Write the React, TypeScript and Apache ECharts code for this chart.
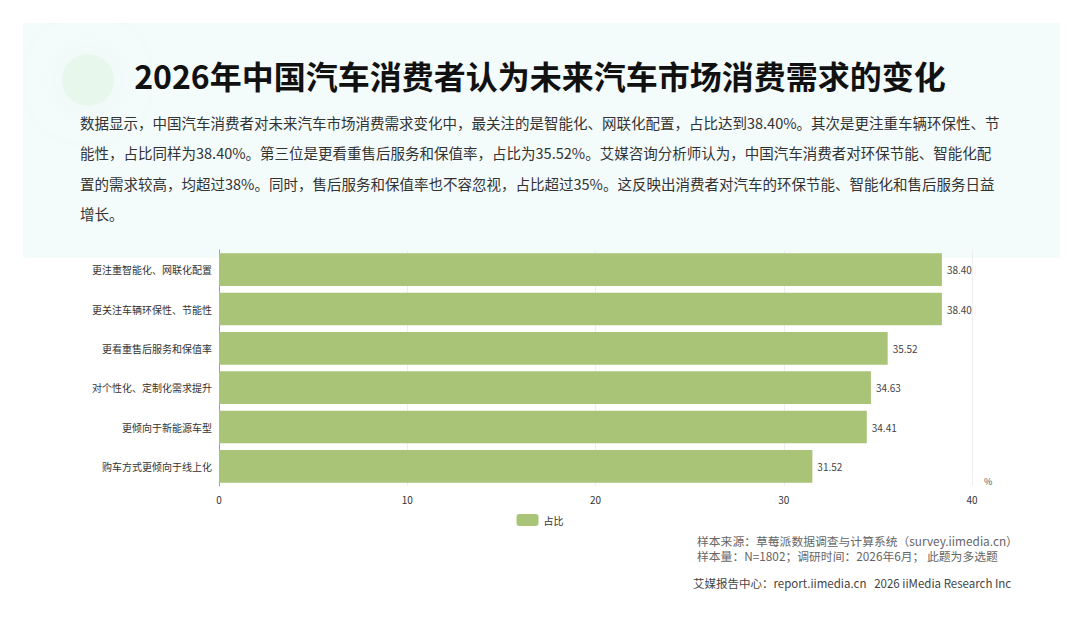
import React, { useEffect, useRef } from "react";
import * as echarts from "echarts";

const categories = [
  "更注重智能化、网联化配置",
  "更关注车辆环保性、节能性",
  "更看重售后服务和保值率",
  "对个性化、定制化需求提升",
  "更倾向于新能源车型",
  "购车方式更倾向于线上化",
];
const shareValues = [38.4, 38.4, 35.52, 34.63, 34.41, 31.52];
const seriesName = "占比";
const axisUnit = "%";

const titleText = "2026年中国汽车消费者认为未来汽车市场消费需求的变化";
const paragraphLines = [
  "数据显示，中国汽车消费者对未来汽车市场消费需求变化中，最关注的是智能化、网联化配置，占比达到38.40%。其次是更注重车辆环保性、节",
  "能性，占比同样为38.40%。第三位是更看重售后服务和保值率，占比为35.52%。艾媒咨询分析师认为，中国汽车消费者对环保节能、智能化配",
  "置的需求较高，均超过38%。同时，售后服务和保值率也不容忽视，占比超过35%。这反映出消费者对汽车的环保节能、智能化和售后服务日益",
  "增长。",
];
const sourceLines = [
  "样本来源：草莓派数据调查与计算系统（survey.iimedia.cn）",
  "样本量：N=1802；调研时间：2026年6月； 此题为多选题",
];
const footerText = "艾媒报告中心：report.iimedia.cn   2026 iiMedia Research Inc";

const FONT = '"Noto Sans CJK SC", "Noto Sans", sans-serif';

export default function App() {
  const ref = useRef<HTMLDivElement>(null);
  useEffect(() => {
    if (!ref.current) return;
    const chart = echarts.init(ref.current, undefined, { renderer: "svg" });
    const graphics: any[] = [
      {
        type: "rect",
        z: -10,
        silent: true,
        shape: { x: 23, y: 23, width: 1037, height: 235 },
        style: { fill: "#f3fbfb" },
      },
      {
        type: "circle",
        z: -9,
        silent: true,
        shape: { cx: 88, cy: 80, r: 26 },
        style: { fill: "rgba(215,240,215,0.35)", shadowBlur: 40, shadowColor: "rgba(215,240,215,0.6)" },
      },
      {
        type: "text",
        x: 540,
        y: 75,
        style: {
          text: titleText,
          fontFamily: FONT,
          fontSize: 32,
          fontWeight: "bold",
          fill: "#111",
          align: "center",
          verticalAlign: "middle",
        },
      },
      ...paragraphLines.map((t, i) => ({
        type: "text",
        x: 80,
        y: 122 + i * 30.5,
        style: {
          text: t,
          fontFamily: FONT,
          fontSize: 14.5,
          fill: "#333",
          align: "left",
          verticalAlign: "middle",
        },
      })),
      ...sourceLines.map((t, i) => ({
        type: "text",
        x: 697,
        y: 540 + i * 15,
        style: {
          text: t,
          fontFamily: FONT,
          fontSize: 11.8,
          lineHeight: 14,
          fill: "#666",
          align: "left",
          verticalAlign: "middle",
        },
      })),
      {
        type: "text",
        x: 693,
        y: 583,
        style: {
          text: footerText,
          fontFamily: FONT,
          fontSize: 11.5,
          fill: "#444",
          align: "left",
          verticalAlign: "middle",
        },
      },
    ];

    chart.setOption({
      animation: false,
      backgroundColor: "#ffffff",
      textStyle: { fontFamily: FONT },
      grid: { left: 219, right: 108, top: 250, bottom: 137, containLabel: false },
      legend: {
        data: [seriesName],
        left: "center",
        top: 509,
        icon: "roundRect",
        itemWidth: 22,
        itemHeight: 12,
        itemGap: 8,
        textStyle: { fontSize: 10, color: "#333", fontFamily: FONT },
      },
      xAxis: {
        type: "value",
        min: 0,
        max: 40,
        interval: 10,
        name: axisUnit,
        nameLocation: "end",
        nameGap: 12,
        nameTextStyle: { fontSize: 9, color: "#555", verticalAlign: "bottom", padding: [0, 0, 0, 0] },
        axisLine: { show: false },
        axisTick: { show: false },
        axisLabel: { fontSize: 10, color: "#333", margin: 8 },
        splitLine: { show: true, lineStyle: { color: "#eeeeee", width: 1 } },
      },
      yAxis: {
        type: "category",
        data: categories,
        inverse: true,
        axisLine: { show: true, lineStyle: { color: "#a0a0a0", width: 1 } },
        axisTick: { show: false },
        axisLabel: { fontSize: 10, color: "#333", margin: 7 },
        splitLine: { show: false },
      },
      series: [
        {
          name: seriesName,
          type: "bar",
          data: shareValues,
          barCategoryGap: "17%",
          itemStyle: { color: "#a9c377" },
          label: {
            show: true,
            position: "right",
            distance: 5,
            fontSize: 10,
            color: "#444",
            formatter: (p: any) => Number(p.value).toFixed(2),
          },
        },
      ],
      graphic: graphics,
    });
    return () => chart.dispose();
  }, []);
  return (
    <div
      ref={ref}
      style={{ position: "fixed", left: 0, top: 0, width: 1080, height: 623, background: "#fff" }}
    />
  );
}
